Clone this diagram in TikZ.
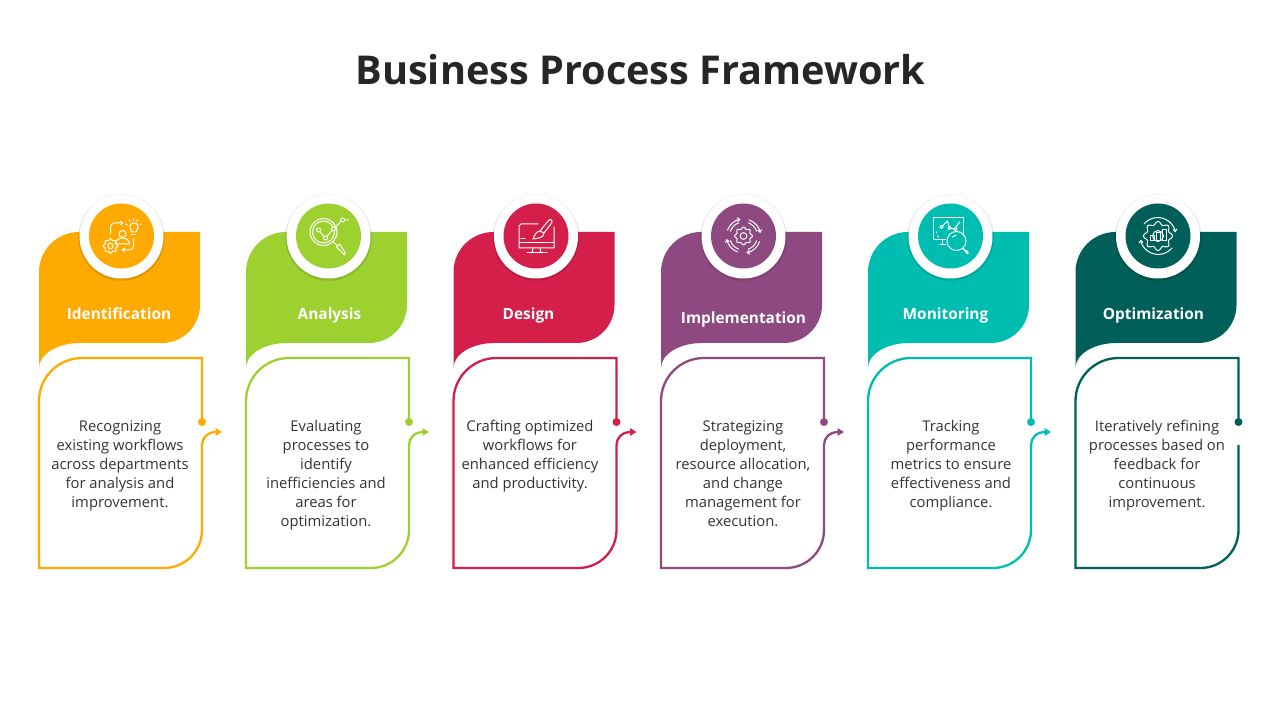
\documentclass[tikz,border=0pt]{standalone}
\usepackage{fontspec}
\setmainfont{Open Sans}
\usetikzlibrary{arrows.meta, shadows}
\definecolor{titlegray}{RGB}{38, 38, 38}
\definecolor{bodygray}{RGB}{51, 51, 51}
\definecolor{idorange}{RGB}{255, 170, 0}
\definecolor{anagreen}{RGB}{157, 209, 48}
\definecolor{descrimson}{RGB}{211, 31, 74}
\definecolor{imppurple}{RGB}{142, 74, 128}
\definecolor{monteal}{RGB}{0, 189, 177}
\definecolor{optpine}{RGB}{0, 95, 88}

\tikzset{
    iconline/.style={draw=white, line width=1pt, line cap=round, line join=round},
    iconarrow/.style={iconline, -{Straight Barb[length=2.5pt,width=4pt]}},
    headtext/.style={text=white, anchor=base, inner sep=0pt, font=\fontsize{15.4}{18}\selectfont\bfseries},
    bodytext/.style={text=bodygray, anchor=north, align=center, inner sep=0pt, font=\fontsize{14.8}{19}\selectfont},
    ring/.style={circle, fill=white, inner sep=0pt, minimum size=84pt, drop shadow={shadow xshift=0pt, shadow yshift=-1pt, shadow scale=1.03, fill=black, opacity=0.12}},
    disc/.style={circle, inner sep=0pt, minimum size=65pt},
    outline/.style={line width=2.3pt, line join=miter},
    flow/.style={line width=2.3pt, -{Triangle[length=6.5pt,width=7.5pt]}}
}

% x, y, radius
\newcommand{\gearshape}[3]{
    \draw[iconline, shift={(#1,#2)}] plot[smooth cycle, domain=0:352.5, samples=48] (\x:{#3+0.13*#3*cos(8*\x)});
    \draw[iconline] (#1,#2) circle[radius=0.42*#3];
}

\newcommand{\iconident}{
    \gearshape{-11}{-10}{6.5}
    \draw[iconline] (1,2) circle[radius=3.5];
    \draw[iconline] (-6,-8) to[out=90,in=180] (1,-2) to[out=0,in=90] (8,-8) -- cycle;
    \draw[iconline] (9.5,4) -- (9.5,6) arc[start angle=225, end angle=-45, radius=4.2] -- (14.5,4) -- cycle;
    \draw[iconline] (9.8,1.5) -- (14.2,1.5);
    \foreach \a in {20,60,90,120,160} \draw[iconline] (12,9) ++(\a:6.5) -- ++(\a:2);
    \draw[iconarrow] (-11,2) -- (-11,9) arc[start angle=180, end angle=90, radius=4] -- (2,13);
    \draw[iconarrow] (12,-3) -- (12,-10) arc[start angle=0, end angle=-90, radius=4] -- (0,-14);
}
\newcommand{\iconana}{
    \draw[iconline] (-5,4) circle[radius=13.5];
    \draw[iconline] (-5,4) circle[radius=11];
    \draw[iconline] (5,-6) -- (9,-10);
    \draw[iconline] (8,-11) -- (16,-19) arc[start angle=-45, end angle=45, radius=2.4] -- (11,-8) -- cycle;
    \draw[iconline] (-10,6) -- (-3,-2) -- (5,7) -- (14,16) -- (20,16);
    \foreach \p in {(-10,6),(-3,-2),(5,7),(14,16)} \filldraw[iconline, fill=anagreen] \p circle[radius=2];
}
\newcommand{\icondes}{
    \draw[iconline] (2,12) -- (-15,12) -- (-17,10) -- (-17,-12) -- (18,-12) -- (18,9);
    \draw[iconline] (-17,-7) -- (18,-7);
    \draw[iconline] (-15,-3) -- (-11,-3);
    \draw[iconline] (-3,-12) -- (-4,-17) (4,-12) -- (5,-17);
    \draw[iconline] (-9,-17) -- (11,-17);
    \draw[iconline] (4,5) -- (13,16) arc[start angle=130, end angle=-40, radius=2] -- (8,3);
    \draw[iconline] (4,5) to[out=200,in=90] (-1,1) to[out=-90,in=120] (-3,-3) to[out=10,in=-90] (8,3) -- cycle;
}
\newcommand{\iconimp}{
    \gearshape{0}{0}{8}
    \foreach \a in {100,190,280,10} {
        \draw[iconarrow] (\a+60:17) arc[start angle=\a+60, end angle=\a, radius=17];
        \draw[iconline] (\a+60:14) arc[start angle=\a+60, end angle=\a+10, radius=14];
    }
}
\newcommand{\iconmon}{
    \draw[iconline] (-5,-4) -- (-17,-4) -- (-17,18) -- (13,18) -- (13,0);
    \draw[iconline] (-9,9) -- (-3,15) -- (-1,8) -- (4,7) -- (9,14);
    \foreach \p in {(-9,9),(-1,8),(5,7)} \filldraw[iconline, fill=monteal] \p circle[radius=1.6];
    \draw[iconline] (-14,4) -- (-14,3) (-13,0) -- (-12,-1);
    \draw[iconline] (-8,-4) -- (-8,-9) (-11,-9) -- (-5,-9);
    \draw[iconline] (6,-5) circle[radius=9.5];
    \draw[iconline] (2,-1) arc[start angle=135, end angle=100, radius=7];
    \draw[iconline] (12,-12) -- (14,-14);
    \draw[iconline] (13,-13) -- (17,-18) arc[start angle=-45, end angle=45, radius=2] -- (16,-15) -- cycle;
}
\newcommand{\iconopt}{
    \gearshape{0}{0}{13}
    \draw[iconline] (-8,-5) rectangle (-4,0);
    \draw[iconline] (-2,-5) rectangle (2,3);
    \draw[iconline] (4,-5) rectangle (8,6);
    \draw[iconarrow] (-14,12) arc[start angle=140, end angle=10, radius=18];
    \draw[iconarrow] (14,-12) arc[start angle=-40, end angle=-170, radius=18];
}

% name, left edge, colour, heading, heading position, body position, body text, icon
\newcommand{\procstep}[8]{
    \begin{scope}[shift={(#2,488)}]
        \fill[#3] (0,-136) -- (0,-40) arc[start angle=180, end angle=90, radius=40] -- (161,0) -- (161,-73)
            arc[start angle=0, end angle=-90, radius=38] -- (41,-111)
            arc[start angle=90, end angle=180, x radius=41, y radius=25] -- cycle;
        \coordinate (#1dot) at (163,-190);
        \coordinate (#1low) at (163,-213);
        \draw[outline, draw=#3] (#1dot) -- (163,-126) -- (43,-126) arc[start angle=90, end angle=180, radius=43]
            -- (0,-336) -- (125,-336) arc[start angle=-90, end angle=0, radius=38] -- (#1low);
        \fill[#3] (#1dot) circle[radius=4];
        \node (#1ring) [ring] at (82.5,-4.5) {};
        \node (#1disc) [disc, fill=#3] at (82.5,-4) {};
        \node (#1head) [headtext] at #5 {#4};
        \node (#1body) [bodytext] at #6 {\strut #7};
        \begin{scope}[shift={(#1disc.center)}]
            #8
        \end{scope}
    \end{scope}
}
\newcommand{\procflow}[2]{
    \draw[flow, draw=#2] (#1low) arc[start angle=180, end angle=90, radius=13] -- ++(7,0);
}

\begin{document}
\begin{tikzpicture}[x=1pt, y=1pt]
    \useasboundingbox (0,0) rectangle (1280,720);

    \node (title) [text=titlegray, font=\fontsize{39.7}{48}\selectfont\bfseries] at (640.5,650) {Business Process Framework};

    % Steps
    \procstep{id}{39}{idorange}{Identification}{(80,-87.5)}{(81,-186)}{Recognizing\\existing workflows\\across departments\\for analysis and\\improvement.}{\iconident}
    \procstep{ana}{246}{anagreen}{Analysis}{(83.5,-87.5)}{(80,-186)}{Evaluating\\processes to\\identify\\inefficiencies and\\areas for\\optimization.}{\iconana}
    \procstep{des}{453.5}{descrimson}{Design}{(75,-87.5)}{(76.5,-186)}{Crafting optimized\\workflows for\\enhanced efficiency\\and productivity.}{\icondes}
    \procstep{imp}{661}{imppurple}{Implementation}{(82.5,-91.5)}{(82,-186)}{Strategizing\\deployment,\\resource allocation,\\and change\\management for\\execution.}{\iconimp}
    \procstep{mon}{868}{monteal}{Monitoring}{(77.5,-87.5)}{(83,-186)}{Tracking\\performance\\metrics to ensure\\effectiveness and\\compliance.}{\iconmon}
    \procstep{opt}{1075.5}{optpine}{Optimization}{(78,-87.5)}{(81.5,-186)}{Iteratively refining\\processes based on\\feedback for\\continuous\\improvement.}{\iconopt}

    % Arrows between steps
    \procflow{id}{idorange}
    \procflow{ana}{anagreen}
    \procflow{des}{descrimson}
    \procflow{imp}{imppurple}
    \procflow{mon}{monteal}
\end{tikzpicture}
\end{document}
